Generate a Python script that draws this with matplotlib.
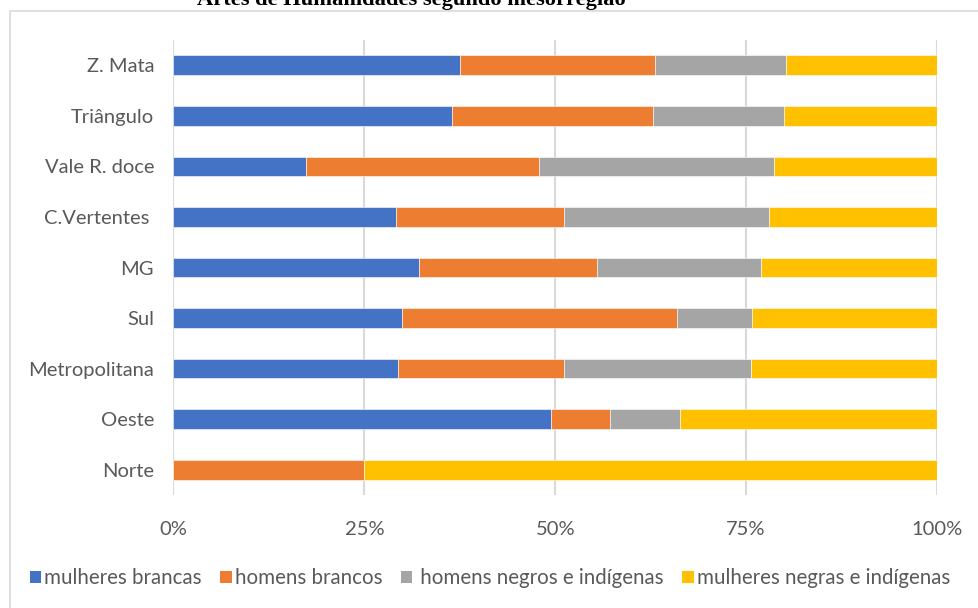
import matplotlib
matplotlib.use("Agg")
import matplotlib.pyplot as plt
from matplotlib.patches import Rectangle, Patch
from matplotlib.ticker import FuncFormatter
import numpy as np

plt.rcParams['font.family'] = ['Lato', 'DejaVu Sans']

categories = ["Norte", "Oeste", "Metropolitana", "Sul", "MG", "C.Vertentes ",
              "Vale R. doce", "Triângulo", "Z. Mata"]
series_names = ["mulheres brancas", "homens brancos", " homens negros e indígenas",
                "mulheres negras e indígenas"]
mulheres_brancas = [0.000, 0.495, 0.294, 0.299, 0.322, 0.291, 0.173, 0.365, 0.375]
homens_brancos   = [0.250, 0.077, 0.218, 0.360, 0.233, 0.220, 0.306, 0.263, 0.256]
homens_negros    = [0.000, 0.092, 0.245, 0.099, 0.215, 0.269, 0.308, 0.172, 0.171]
mulheres_negras  = [0.750, 0.336, 0.243, 0.242, 0.230, 0.220, 0.213, 0.200, 0.198]
x_ticks = [0, 0.25, 0.5, 0.75, 1.0]
title = "Artes de Humanidades segundo mesorregião"

colors = ["#4472C4", "#ED7D31", "#A5A5A5", "#FFC000"]
series = [mulheres_brancas, homens_brancos, homens_negros, mulheres_negras]

W, H = 979, 608
fig = plt.figure(figsize=(W / 100, H / 100), dpi=100)
ax = fig.add_axes([173.5 / W, 1 - 495 / H, (937 - 173.5) / W, (495 - 40) / H])

y = np.arange(len(categories))
left = np.zeros(len(categories))
for vals, c, name in zip(series, colors, series_names):
    v = np.array(vals)
    ax.barh(y, v, left=left, height=0.39, color=c, edgecolor="white",
            linewidth=0.4, label=name, zorder=3)
    left += v

ax.set_xlim(0, 1)
ax.set_ylim(-0.5, len(categories) - 0.5)
ax.set_yticks(y)
ax.set_yticklabels(categories)
ax.set_xticks(x_ticks)
ax.xaxis.set_major_formatter(FuncFormatter(lambda v, p: f"{v*100:.0f}%"))
ax.tick_params(axis="both", length=0, labelsize=14.5, colors="#595959")
ax.tick_params(axis="x", pad=19)
ax.tick_params(axis="y", pad=14)
ax.grid(axis="x", color="#D9D9D9", linewidth=1.5, zorder=0)
for s in ax.spines.values():
    s.set_visible(False)

handles = [Patch(facecolor=c, edgecolor="none") for c in colors]
fig.legend(handles, series_names, loc="center", bbox_to_anchor=(490 / W, 1 - 578 / H),
           ncol=4, frameon=False, fontsize=14.8, handlelength=0.55, handleheight=0.55,
           handletextpad=0.15, columnspacing=0.9, labelcolor="#595959")

fig.patches.append(Rectangle((10 / W, -0.1), 1.2, 1 - 11 / H + 0.1, transform=fig.transFigure,
                             fill=False, edgecolor="#D9D9D9", linewidth=1.2))

fig.text(411 / W, 1 - 5 / H, title, ha="center", va="baseline",
         fontfamily="Liberation Serif", fontweight="bold", fontsize=16.2)

fig.savefig("out.png", dpi=100)
